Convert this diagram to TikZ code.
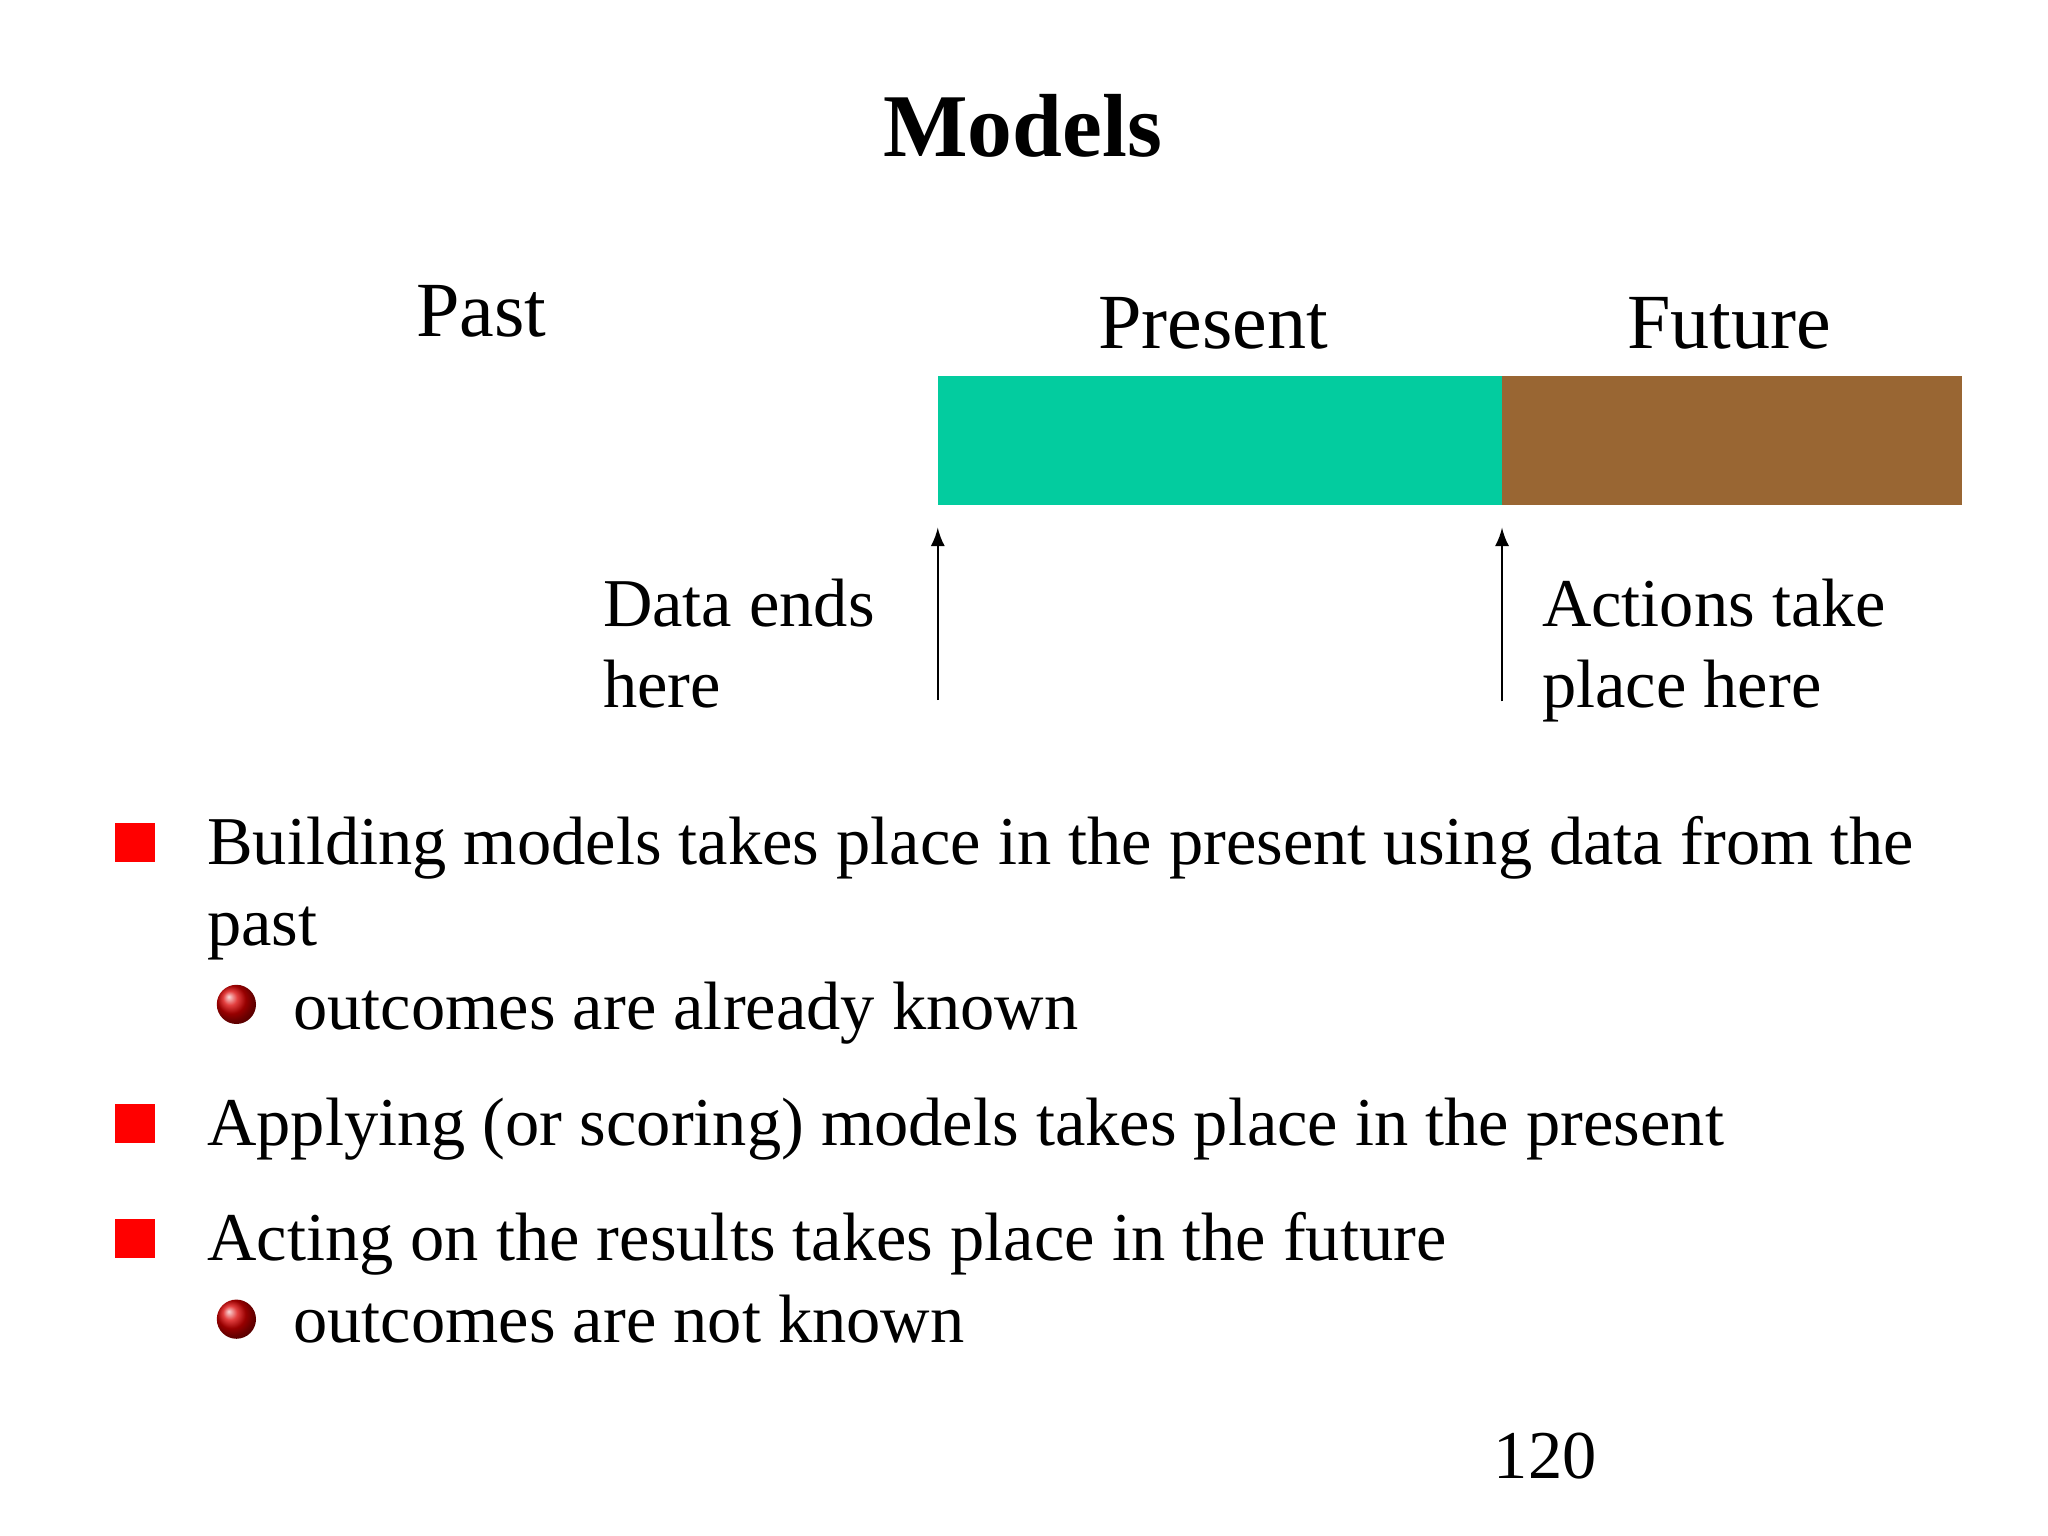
\documentclass[tikz,border=0pt]{standalone}
\usepackage{fontspec}
\setmainfont{Liberation Serif}
\begin{document}
\begin{tikzpicture}[x=0.01cm,y=-0.01cm,
  lbl/.style={anchor=base west,inner sep=0pt,font=\fontsize{17pt}{20pt}\selectfont},
  body/.style={anchor=base west,inner sep=0pt,font=\fontsize{14.9pt}{18pt}\selectfont},
  sq/.style={fill=red,draw=none},
  ball/.style={circle,minimum size=0.3cm,inner sep=0pt,ball color=red!85!black},
  arr/.style={-latex,thin}]
\useasboundingbox (0,0) rectangle (1568,1176);
\node[anchor=base,inner sep=0pt,font=\fontsize{19.5pt}{23pt}\selectfont\bfseries] (title) at (783,120) {Models};
\node[lbl] (past) at (318,258) {Past};
\node[lbl] (present) at (840,267) {Present};
\node[lbl] (future) at (1245,267) {Future};
\fill[fill={rgb,255:red,3;green,204;blue,159}] (718,288) rectangle (1150,387);
\fill[fill={rgb,255:red,153;green,102;blue,51}] (1150,288) rectangle (1502,387);
\coordinate (a1s) at (718,536); \coordinate (a1e) at (718,404);
\coordinate (a2s) at (1150,537); \coordinate (a2e) at (1150,404);
\draw[arr] (a1s) -- (a1e);
\draw[arr] (a2s) -- (a2e);
\node[body] (d1) at (461,480) {Data ends};
\node[body] (d2) at (461,542) {here};
\node[body] (c1) at (1180,480) {Actions take};
\node[body] (c2) at (1180,542) {place here};
\fill[sq] (88,630) rectangle (119,660);
\node[body] (b1) at (158,662) {Building models takes place in the present using data from the};
\node[body] (b1b) at (158,724) {past};
\node[ball] (s1) at (181,769) {};
\node[body] (b1s) at (224,788) {outcomes are already known};
\fill[sq] (88,845) rectangle (119,875);
\node[body] (b2) at (158,877) {Applying (or scoring) models takes place in the present};
\fill[sq] (88,933) rectangle (119,963);
\node[body] (b3) at (158,965) {Acting on the results takes place in the future};
\node[ball] (s2) at (181,1010) {};
\node[body] (b3s) at (224,1028) {outcomes are not known};
\node[body] (pg) at (1143,1132) {120};
\end{tikzpicture}
\end{document}
